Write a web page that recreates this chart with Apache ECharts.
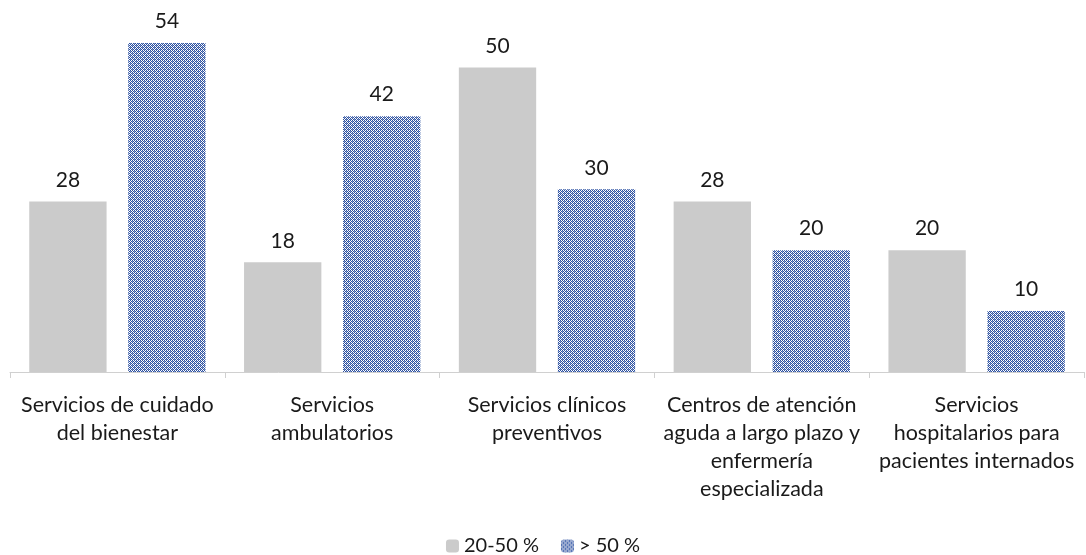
<!DOCTYPE html>
<html><head><meta charset="utf-8">
<script src="https://cdn.jsdelivr.net/npm/echarts@6/dist/echarts.min.js"></script>
<style>html,body{margin:0;padding:0;background:#fff}#c{width:1086px;height:555px}</style>
</head><body><div id="c"></div>
<script>
const categories = ["Servicios de cuidado\ndel bienestar", "Servicios\nambulatorios", "Servicios clínicos\npreventivos", "Centros de atención\naguda a largo plazo y\nenfermería\nespecializada", "Servicios\nhospitalarios para\npacientes internados"];
const seriesNames = ["20-50 %", "> 50 %"];
const values2050 = [28, 18, 50, 28, 20];
const valuesOver50 = [54, 42, 30, 20, 10];

function makePattern(){
  const c = document.createElement('canvas');
  c.width = 4; c.height = 4;
  const g = c.getContext('2d');
  g.fillStyle = '#ffffff'; g.fillRect(0,0,4,4);
  g.fillStyle = '#2f52a0';
  g.fillRect(0,0,1,1); g.fillRect(2,0,1,1); g.fillRect(1,1,1,1); g.fillRect(3,1,1,1);
  g.fillRect(0,2,1,1); g.fillRect(2,2,1,1); g.fillRect(1,3,1,1); g.fillRect(3,3,1,1);
  g.fillStyle = '#7f98cc';
  g.fillRect(0,1,1,1); g.fillRect(2,3,1,1);
  return c;
}
const pat = makePattern();
const chart = echarts.init(document.getElementById('c'), null, {renderer:'canvas'});
const font = "Lato, Noto Sans, sans-serif";
chart.setOption({
  animation:false,
  grid:{left:10, right:2, top:6.5, bottom:183, containLabel:false},
  legend:{top:531, left:'center', itemWidth:13, itemHeight:13, itemGap:22,
    textStyle:{fontFamily:font, fontSize:20, color:'#1a1a1a'},
    data:seriesNames},
  xAxis:{type:'category', data:categories,
    axisLine:{lineStyle:{color:'#d0d0d0', width:1}},
    axisTick:{show:true, length:6, lineStyle:{color:'#d0d0d0'}},
    axisLabel:{interval:0, margin:19, fontFamily:font, fontSize:21.5, lineHeight:28, color:'#1a1a1a', align:'center'}},
  yAxis:{type:'value', min:0, max:60, show:false, splitLine:{show:false}},
  series:[
    {name:seriesNames[0], type:'bar', data:values2050, barWidth:'36%', barGap:'28%',
     itemStyle:{color:'#cbcbcb'},
     label:{show:true, position:'top', distance:11, fontFamily:font, fontSize:21, color:'#1a1a1a'}},
    {name:seriesNames[1], type:'bar', data:valuesOver50, barWidth:'36%',
     itemStyle:{color:{image:pat, repeat:'repeat'}},
     label:{show:true, position:'top', distance:11, fontFamily:font, fontSize:21, color:'#1a1a1a'}}
  ]
});
</script></body></html>
